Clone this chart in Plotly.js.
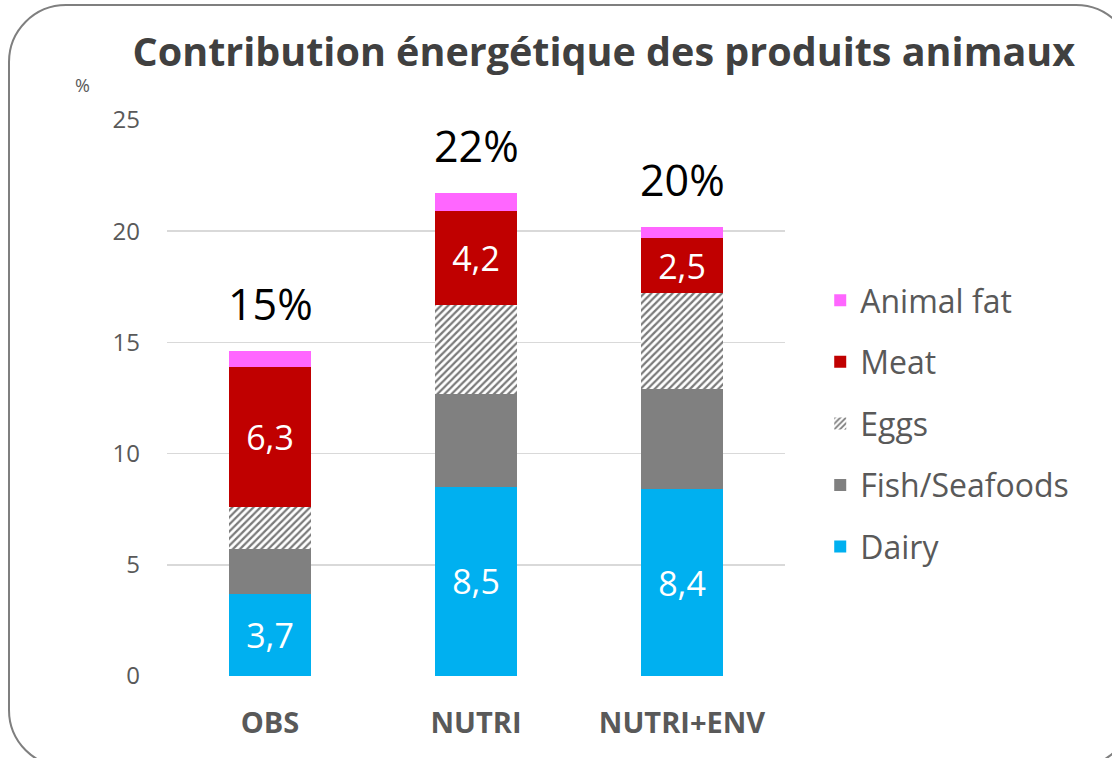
<!DOCTYPE html>
<html>
<head>
<meta charset="utf-8">
<script src="https://cdn.plot.ly/plotly-3.0.1.min.js"></script>
<style>
  html, body { margin:0; padding:0; width:1112px; height:758px; overflow:hidden; background:#fff; }
  #chart { position:absolute; left:0; top:0; width:1112px; height:758px; }
  #frame { position:absolute; left:8px; top:4px; width:1122px; height:760px; border:2.5px solid #7f7f7f; border-radius:58px; pointer-events:none; }
</style>
</head>
<body>
<div id="chart"></div>
<div id="frame"></div>
<script>
const categories = ['OBS', 'NUTRI', 'NUTRI+ENV'];
const dairy = [3.7, 8.5, 8.4];
const fish = [2.0, 4.2, 4.5];
const eggs = [1.9, 4.0, 4.3];
const meat = [6.3, 4.2, 2.5];
const animalFat = [0.7, 0.8, 0.5];
const totalLabels = ['15%', '22%', '20%'];
const yTicks = [0, 5, 10, 15, 20, 25];

const FONT = 'Open Sans, Noto Sans, sans-serif';
const GREY = '#595959';

function bar(name, y, color, rank, extra) {
  return Object.assign({
    type: 'bar', name: name, x: categories, y: y,
    marker: { color: color, line: { width: 0 } },
    legendgroup: name, legendrank: rank, hoverinfo: 'skip'
  }, extra || {});
}
const labelStyle = {
  texttemplate: '%{y:.1f}', textposition: 'inside', insidetextanchor: 'middle',
  textfont: { family: FONT, size: 34, color: '#ffffff' }, textangle: 0
};

const traces = [
  bar('Dairy', dairy, '#00B0F0', 5, labelStyle),
  bar('Fish/Seafoods', fish, '#808080', 4),
  bar('Eggs', eggs, '#ffffff', 3, { marker: { color: '#ffffff', line: { width: 0 },
      pattern: { shape: '/', fgcolor: '#7a7a7a', bgcolor: '#ffffff', size: 5, solidity: 0.45 } } }),
  bar('Meat', meat, '#C00000', 2, labelStyle),
  bar('Animal fat', animalFat, '#FF66FF', 1)
];

const totals = categories.map((c, i) => dairy[i] + fish[i] + eggs[i] + meat[i] + animalFat[i]);
const annotations = categories.map((c, i) => ({
  x: c, y: totals[i], xref: 'x', yref: 'y', text: totalLabels[i], showarrow: false,
  yanchor: 'bottom', yshift: 16, font: { family: FONT, size: 43, color: '#000000' }
}));
annotations.push({
  xref: 'paper', yref: 'paper', x: -0.1375, y: 1.063, text: '%', showarrow: false,
  xanchor: 'center', yanchor: 'middle', font: { family: FONT, size: 18, color: GREY }
});

const layout = {
  width: 1112, height: 758,
  margin: { l: 167, r: 327, t: 120, b: 82 },
  paper_bgcolor: 'rgba(0,0,0,0)', plot_bgcolor: 'rgba(0,0,0,0)',
  barmode: 'stack', bargap: 0.6,
  separators: ', ',
  font: { family: FONT, color: GREY },
  title: {
    text: '<b>Contribution énergétique des produits animaux</b>',
    font: { family: FONT, size: 39.5, color: '#404040' },
    xref: 'container', yref: 'container', x: 0.543, xanchor: 'center', y: 0.931, yanchor: 'middle'
  },
  xaxis: {
    tickfont: { family: FONT, size: 29, color: GREY, weight: 'bold' },
    showline: false, ticks: '', ticklabelstandoff: 27, fixedrange: true
  },
  yaxis: {
    range: [0, 25], tickvals: yTicks, ticktext: yTicks.map(String),
    tickfont: { family: FONT, size: 24, color: GREY },
    gridcolor: '#d9d9d9', gridwidth: 1.5, zeroline: false, showline: false,
    ticks: '', ticklabelstandoff: 26, fixedrange: true
  },
  legend: {
    x: 1.057, xanchor: 'left', y: 0.725, yanchor: 'top',
    traceorder: 'grouped', tracegroupgap: 17,
    font: { family: FONT, size: 32, color: GREY },
    bgcolor: 'rgba(0,0,0,0)'
  },
  annotations: annotations,
  showlegend: true
};

Plotly.newPlot('chart', traces, layout, { displayModeBar: false, staticPlot: true });
</script>
</body>
</html>
